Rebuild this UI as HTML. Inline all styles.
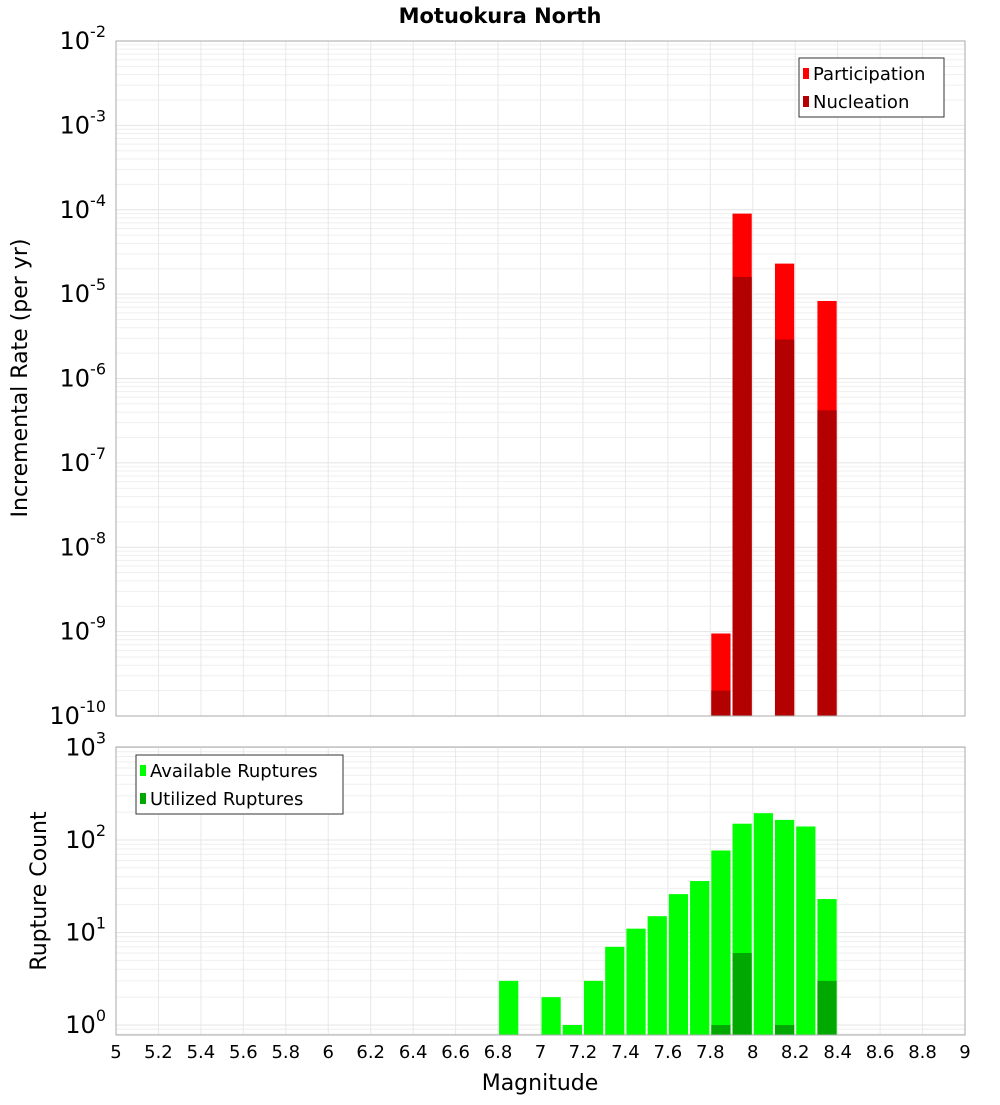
<!DOCTYPE html>
<html><head><meta charset="utf-8"><style>
body{margin:0;background:#fff;}
svg text{font-family:"DejaVu Sans","Liberation Sans",sans-serif;}
</style></head><body>
<svg id="chart" width="1000" height="1100" xmlns="http://www.w3.org/2000/svg">
<text x="500" y="23" text-anchor="middle" font-size="21" font-weight="bold">Motuokura North</text>
<g id="topPlot"></g>
<g id="botPlot"></g>
<text transform="translate(27,378) rotate(-90)" text-anchor="middle" font-size="22">Incremental Rate (per yr)</text>
<text transform="translate(46,891) rotate(-90)" text-anchor="middle" font-size="22">Rupture Count</text>
<text x="540" y="1090" text-anchor="middle" font-size="22">Magnitude</text>
<g>
<rect x="799" y="58" width="145" height="59" fill="#fff" stroke="#333" stroke-width="1"/>
<rect x="803" y="68" width="6" height="11" fill="#ff0000"/>
<text x="813" y="80" font-size="18">Participation</text>
<rect x="803" y="96" width="6" height="11" fill="#b30000"/>
<text x="813" y="108" font-size="18">Nucleation</text>
</g>
<g>
<rect x="136" y="755" width="207" height="59" fill="#fff" stroke="#333" stroke-width="1"/>
<rect x="140" y="765" width="6" height="11" fill="#00ff00"/>
<text x="150" y="777" font-size="18">Available Ruptures</text>
<rect x="140" y="793" width="6" height="11" fill="#00a800"/>
<text x="150" y="805" font-size="18">Utilized Ruptures</text>
</g>
</svg>
<script>
const xTicks=[5,5.2,5.4,5.6,5.8,6,6.2,6.4,6.6,6.8,7,7.2,7.4,7.6,7.8,8,8.2,8.4,8.6,8.8,9];
const rateMags=[7.85,7.95,8.15,8.35];
const participation=[9.5e-10,9e-5,2.3e-5,8.3e-6];
const nucleation=[2e-10,1.6e-5,2.9e-6,4.2e-7];
const countMags=[6.85,7.05,7.15,7.25,7.35,7.45,7.55,7.65,7.75,7.85,7.95,8.05,8.15,8.25,8.35];
const available=[3,2,1,3,7,11,15,26,36,77,150,195,165,140,23];
const utilizedMags=[7.85,7.95,8.15,8.35];
const utilized=[1,6,1,3];
const topExps=[-2,-3,-4,-5,-6,-7,-8,-9,-10];
const botExps=[3,2,1,0];

const NS="http://www.w3.org/2000/svg";
const X0=116,X1=965;
const xs=m=>X0+(m-5)/4*(X1-X0);
const T0=41,T1=716;
const yTop=v=>T0+(-2-Math.log10(v))*(T1-T0)/8;
const B0=747,B1=1035,BD=92.5,B_ONE=1025;
const yBot=v=>B_ONE-Math.log10(v)*BD;
function mk(p,tag,a){const e=document.createElementNS(NS,tag);for(const k in a)e.setAttribute(k,a[k]);p.appendChild(e);return e;}
const topG=document.getElementById('topPlot'),botG=document.getElementById('botPlot'),svgEl=document.getElementById('chart');

function grid(g,y0,y1,yf,decLo,decHi){
  mk(g,'rect',{x:X0,y:y0,width:X1-X0,height:y1-y0,fill:'#fff'});
  for(let d=decLo;d<=decHi;d++)for(let k=1;k<10;k++){const y=yf(k*Math.pow(10,d));if(y<y0||y>y1)continue;
    mk(g,'line',{x1:X0,x2:X1,y1:y,y2:y,stroke:k==1?'#e4e4e4':'#efefef','stroke-width':1});}
  xTicks.forEach(t=>{const x=xs(t);mk(g,'line',{x1:x,x2:x,y1:y0,y2:y1,stroke:'#e8e8e8','stroke-width':1});});
}
grid(topG,T0,T1,yTop,-10,-2);
grid(botG,B0,B1,yBot,-1,3);

rateMags.forEach((m,i)=>{
  const x=xs(m-0.05)+1,w=xs(m+0.05)-xs(m-0.05)-2;
  let y=yTop(participation[i]);
  const r=mk(topG,'rect',{x:x,y:y,width:w,height:T1-y,fill:'#ff0000'});
  
  
  y=yTop(nucleation[i]);
  const n=mk(topG,'rect',{x:x,y:y,width:w,height:T1-y,fill:'#b30000'});
  
  
});
countMags.forEach((m,i)=>{
  const x=xs(m-0.05)+1,w=xs(m+0.05)-xs(m-0.05)-2;
  const y=yBot(available[i]);
  const r=mk(botG,'rect',{x:x,y:y,width:w,height:B1-y,fill:'#00ff00'});
  
  
});
utilizedMags.forEach((m,i)=>{
  const x=xs(m-0.05)+1,w=xs(m+0.05)-xs(m-0.05)-2;
  const y=yBot(utilized[i]);
  const r=mk(botG,'rect',{x:x,y:y,width:w,height:B1-y,fill:'#00a800'});
  
  
});
mk(topG,'rect',{x:X0,y:T0,width:X1-X0,height:T1-T0,fill:'none',stroke:'#aaa','stroke-width':1});
mk(botG,'rect',{x:X0,y:B0,width:X1-X0,height:B1-B0,fill:'none',stroke:'#aaa','stroke-width':1});

function expLabel(p,y,e){
  const t=mk(p,'text',{x:106,y:y+8,'text-anchor':'end','font-size':24});
  
  
  const a=document.createElementNS(NS,'tspan');a.textContent='10';t.appendChild(a);
  const b=document.createElementNS(NS,'tspan');b.setAttribute('dy','-12');b.setAttribute('font-size','16');b.textContent=String(e);t.appendChild(b);
}
topExps.forEach(e=>expLabel(topG,yTop(Math.pow(10,e)),e));
botExps.forEach(e=>expLabel(botG,yBot(Math.pow(10,e)),e));
xTicks.forEach(t=>{
  const el=mk(svgEl,'text',{x:xs(t),y:1058,'text-anchor':'middle','font-size':18});
  
  
  el.textContent=String(t);
});
</script>
</body></html>
